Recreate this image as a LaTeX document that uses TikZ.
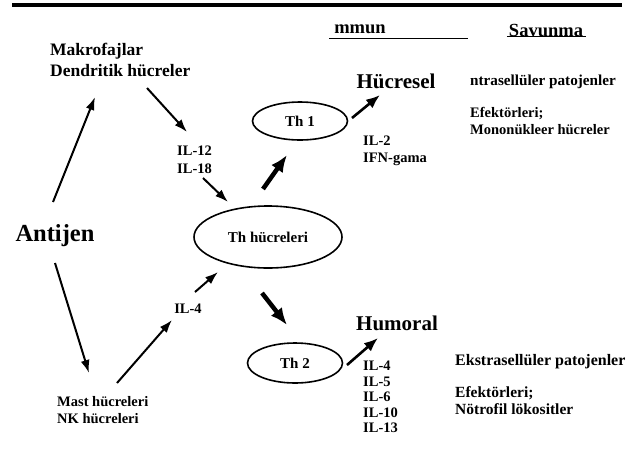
\documentclass[tikz,border=0pt]{standalone}
\usepackage{fontspec}
\setmainfont{Liberation Serif}
\usetikzlibrary{shapes.geometric,arrows.meta}

\begin{document}
\begin{tikzpicture}[
    x=1pt, y=-1pt,
    font=\bfseries,
    lbl/.style={inner sep=0pt, align=left, font=\bfseries\fontsize{14.5}{17.5}\selectfont},
    side/.style={inner sep=0pt, align=left, font=\bfseries\fontsize{15.5}{17}\selectfont},
    head/.style={inner sep=0pt, align=left, font=\bfseries\fontsize{17.5}{21.5}\selectfont},
    big/.style={inner sep=0pt, font=\bfseries\fontsize{21}{24}\selectfont},
    huge/.style={inner sep=0pt, font=\bfseries\fontsize{24.5}{28}\selectfont},
    cell/.style={draw, ellipse, line width=1.6pt, inner sep=0pt, font=\bfseries\fontsize{15}{17}\selectfont},
    uline/.style={line width=1.5pt},
    arr/.style={-{Latex[length=13pt,width=9pt]}, line width=2pt},
    mid/.style={-{Latex[length=14pt,width=11pt]}, line width=2.6pt},
    fat/.style={-{Latex[length=17pt,width=14pt]}, line width=4.5pt},
  ]
  \useasboundingbox (0,0) rectangle (632,448);

  % ===== top rule and column heads =====
  \draw[line width=4.5pt] (12,5) -- (622,5);
  \node[head, font=\bfseries\fontsize{18.5}{22}\selectfont] (mmun) at (360,29) {mmun};
  \node[head, font=\bfseries\fontsize{18.5}{22}\selectfont] (savunma) at (546,30) {Savunma};
  \draw[uline] ([shift={(-5,5)}]mmun.south west) -- ([shift={(82,5)}]mmun.south east);
  \draw[uline] ([shift={(-2,0)}]savunma.south west) -- ([shift={(3,0)}]savunma.south east);

  % ===== left: antigen and presenting cells =====
  \node[huge] (antijen) at (55,236) {Antijen};
  \node[head, anchor=west] (makro) at (50,60) {Makrofajlar\\Dendritik hücreler};
  \node[lbl, anchor=west] (mast) at (57,410) {Mast hücreleri\\NK hücreleri};
  \node[lbl, anchor=west] (il12) at (177,160) {IL-12\\IL-18};
  \node[lbl] (il4) at (188,309) {IL-4};

  % ===== T helper cells =====
  \node[cell, minimum width=148pt, minimum height=62pt] (th) at (268,237) {Th hücreleri};
  \node[cell, minimum width=95pt, minimum height=38pt] (thone) at (300,121) {Th 1};
  \node[cell, minimum width=95pt, minimum height=40pt] (thtwo) at (295,363) {Th 2};

  % ===== responses =====
  \node[big] (hucresel) at (396,81) {Hücresel};
  \node[big] (humoral) at (397,323) {Humoral};
  \node[lbl, anchor=west] (il2) at (363,151) {IL-2\\IFN-gama};
  \node[lbl, anchor=west, font=\bfseries\fontsize{14.5}{15.5}\selectfont] (ilhum) at (363,397) {IL-4\\IL-5\\IL-6\\IL-10\\IL-13};

  % ===== defence column =====
  \node[side, anchor=west, font=\bfseries\fontsize{15.2}{17}\selectfont] (ntra) at (470,82) {ntrasellüler patojenler};
  \node[lbl, anchor=west] (efekone) at (470,121) {Efektörleri;\\Mononükleer hücreler};
  \node[side, anchor=west, font=\bfseries\fontsize{16}{17}\selectfont] (ekstra) at (455,362) {Ekstrasellüler patojenler};
  \node[side, anchor=west] (efektwo) at (455,401) {Efektörleri;\\Nötrofil lökositler};

  % ===== arrows =====
  \draw[arr] ([shift={(-2,-34)}]antijen.center) -- ([shift={(45,37)}]makro.west);
  \draw[arr] ([shift={(97,28)}]makro.west) -- ([shift={(10,-28)}]il12.west);
  \draw[arr] ([shift={(26,18)}]il12.west) -- ([shift={(-40,-35)}]th.center);
  \draw[arr] ([shift={(0,27)}]antijen.center) -- ([shift={(32,-37)}]mast.west);
  \draw[arr] ([shift={(60,-27)}]mast.west) -- ([shift={(-16,11)}]il4.center);
  \draw[arr] ([shift={(7,-17)}]il4.center) -- ([shift={(-50,35)}]th.center);
  \draw[fat] ([shift={(-5,-48)}]th.center) -- ([shift={(-13,34)}]thone.center);
  \draw[fat] ([shift={(-6,56)}]th.center) -- ([shift={(-8,-38)}]thtwo.center);
  \draw[mid] ([shift={(52,-3)}]thone.center) -- ([shift={(-16,14)}]hucresel.center);
  \draw[mid] ([shift={(52,2)}]thtwo.center) -- ([shift={(-19,15)}]humoral.center);

\end{tikzpicture}
\end{document}
